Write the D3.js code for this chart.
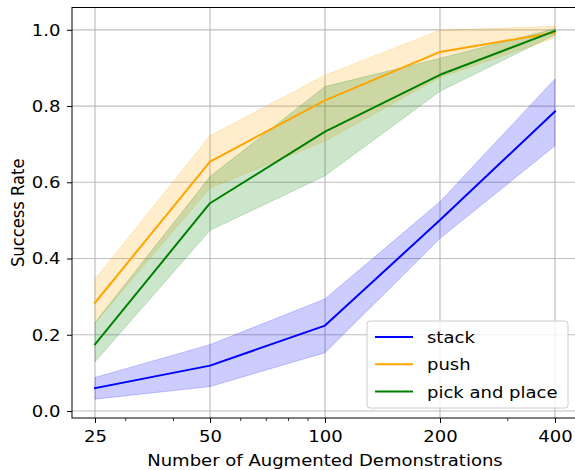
<!DOCTYPE html>
<html><head><meta charset="utf-8">
<script src="https://cdn.jsdelivr.net/npm/d3@7"></script>
<style>body{margin:0;background:#fff}svg{display:block}text{font-family:"DejaVu Sans",sans-serif}</style>
</head><body><svg id="c" width="575" height="470"></svg>
<script>
const xValues = [25, 50, 100, 200, 400];
const xTickLabels = ["25", "50", "100", "200", "400"];
const xMinorTicks = [30, 40, 60, 70, 80, 90, 300];
const yTicks = [0, 0.2, 0.4, 0.6, 0.8, 1.0];
const seriesNames = ["stack", "push", "pick and place"];
const seriesColors = ["blue", "orange", "green"];
const stackMean = [0.060, 0.119, 0.224, 0.501, 0.786];
const stackLow  = [0.031, 0.064, 0.153, 0.453, 0.696];
const stackHigh = [0.088, 0.174, 0.294, 0.549, 0.871];
const pushMean = [0.284, 0.654, 0.815, 0.942, 0.993];
const pushLow  = [0.231, 0.585, 0.708, 0.875, 0.979];
const pushHigh = [0.346, 0.722, 0.881, 0.999, 1.009];
const pickMean = [0.175, 0.545, 0.733, 0.882, 0.997];
const pickLow  = [0.129, 0.474, 0.617, 0.839, 0.987];
const pickHigh = [0.232, 0.615, 0.851, 0.925, 1.003];

const series = [
  {name: seriesNames[0], color: seriesColors[0], mean: stackMean, low: stackLow, high: stackHigh},
  {name: seriesNames[1], color: seriesColors[1], mean: pushMean, low: pushLow, high: pushHigh},
  {name: seriesNames[2], color: seriesColors[2], mean: pickMean, low: pickLow, high: pickHigh}
];

const SX = 1.1;   // horizontal stretch of glyphs
const FS = 16.4;  // font size
function stretch(sel) {
  sel.each(function() {
    const t = d3.select(this);
    const x0 = +t.attr("x") || 0, y0 = +t.attr("y") || 0;
    t.attr("transform", `translate(${x0},${y0}) scale(${SX},1) translate(${-x0},${-y0})`);
  });
}

const svg = d3.select("#c");
const L = 72, R = 578, T = 7.5, B = 418;
const x = d3.scaleLog().base(2).domain([25 / Math.pow(2, 0.2), 400 * Math.pow(2, 0.2)]).range([L, R]);
const y = d3.scaleLinear().domain([-0.0184, 1.0585]).range([B, T]);

// grid
const g = svg.append("g");
g.selectAll(".gx").data(xValues).enter().append("line")
  .attr("x1", d => x(d)).attr("x2", d => x(d)).attr("y1", T).attr("y2", B)
  .attr("stroke", "#b0b0b0").attr("stroke-width", 1.2).attr("opacity", 0.8);
g.selectAll(".gy").data(yTicks).enter().append("line")
  .attr("x1", L).attr("x2", R).attr("y1", d => y(d)).attr("y2", d => y(d))
  .attr("stroke", "#b0b0b0").attr("stroke-width", 1.2).attr("opacity", 0.8);

const area = d3.area().x((d, i) => x(xValues[i])).y0(d => y(d[0])).y1(d => y(d[1]));
const line = d3.line().x((d, i) => x(xValues[i])).y(d => y(d));

series.forEach(s => {
  svg.append("path").datum(s.low.map((v, i) => [v, s.high[i]]))
    .attr("d", area).attr("fill", s.color).attr("fill-opacity", 0.2)
    .attr("stroke", s.color).attr("stroke-opacity", 0.2).attr("stroke-width", 1);
});
series.forEach(s => {
  svg.append("path").datum(s.mean).attr("d", line)
    .attr("fill", "none").attr("stroke", s.color).attr("stroke-width", 2)
    .attr("stroke-linejoin", "round").attr("stroke-linecap", "square");
});

// axes
const xAxis = d3.axisBottom(x).tickValues(xValues).tickFormat((d, i) => xTickLabels[i]).tickSize(5);
const xa = svg.append("g").attr("transform", `translate(0,${B})`).call(xAxis);
xa.select(".domain").remove();
xa.selectAll("text").attr("font-size", FS).attr("fill", "#000").attr("y", 24).attr("dy", null).call(stretch);
xa.selectAll("line").attr("stroke", "#000").attr("stroke-width", 1);
const xMinor = d3.axisBottom(x).tickValues(xMinorTicks).tickFormat("").tickSize(3);
const xm = svg.append("g").attr("transform", `translate(0,${B})`).call(xMinor);
xm.select(".domain").remove();
xm.selectAll("line").attr("stroke", "#000").attr("stroke-width", 0.8);

const yAxis = d3.axisLeft(y).tickValues(yTicks).tickFormat(d3.format(".1f")).tickSize(5);
const ya = svg.append("g").attr("transform", `translate(${L},0)`).call(yAxis);
ya.select(".domain").remove();
ya.selectAll("text").attr("font-size", FS).attr("fill", "#000").attr("x", -11.5).call(stretch);
ya.selectAll("line").attr("stroke", "#000").attr("stroke-width", 1);

// spines
svg.append("rect").attr("x", L).attr("y", T).attr("width", R - L).attr("height", B - T)
  .attr("fill", "none").attr("stroke", "#000").attr("stroke-width", 1);

// labels
svg.append("text").attr("x", (L + R) / 2).attr("y", 466).attr("text-anchor", "middle")
  .attr("font-size", FS).text("Number of Augmented Demonstrations").call(stretch);
svg.append("text").attr("transform", `translate(24,${(T + B) / 2}) scale(${SX},1) rotate(-90)`)
  .attr("text-anchor", "middle").attr("font-size", FS).text("Success Rate");

// legend
const lg = svg.append("g");
lg.append("rect").attr("x", 367).attr("y", 321).attr("width", 201).attr("height", 87).attr("rx", 3)
  .attr("fill", "#fff").attr("fill-opacity", 0.8).attr("stroke", "#cccccc").attr("stroke-width", 1);
series.forEach((s, i) => {
  const yy = 337 + i * 27.3;
  lg.append("line").attr("x1", 375).attr("x2", 413).attr("y1", yy).attr("y2", yy)
    .attr("stroke", s.color).attr("stroke-width", 2);
  lg.append("text").attr("x", 427).attr("y", yy + 6).attr("font-size", FS).text(s.name).call(stretch);
});
</script></body></html>
